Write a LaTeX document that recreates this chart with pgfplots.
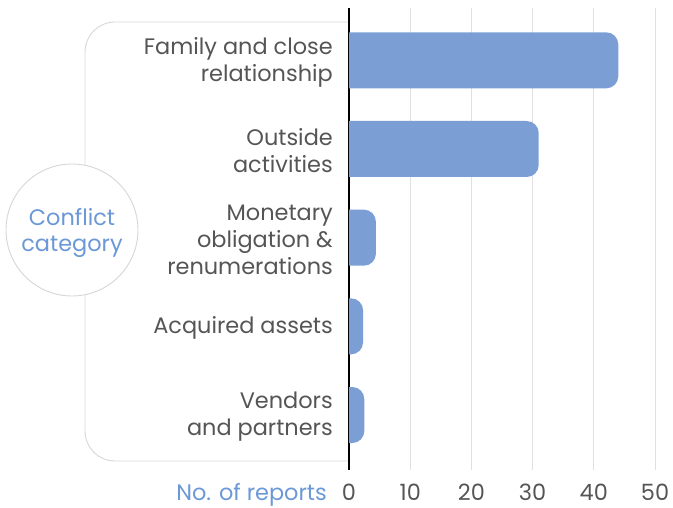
\documentclass[border=0pt]{standalone}
\usepackage{fontspec}
\setmainfont{Poppins}
\usepackage{pgfplots}
\pgfplotsset{compat=1.18}
\usepackage{pgfplotstable}
\definecolor{barblue}{HTML}{7B9FD4}
\definecolor{lblblue}{HTML}{6B98D6}
\definecolor{txtgray}{HTML}{555555}
\definecolor{boxgray}{HTML}{D6D6D6}
\definecolor{gridgray}{HTML}{E0E0E0}
\pgfplotstableread{
y v
0 44
1 31
2 4.4
3 2.3
4 2.5
}\datatable
\begin{document}
\begin{tikzpicture}
\path[use as bounding box] (0,0) rectangle (673bp,508bp);
\draw[boxgray, line width=0.9bp, rounded corners=30bp] (349bp,486bp) -| (85bp,47bp) -- (349bp,47bp);
\begin{axis}[
  at={(349bp,38bp)}, anchor=south west,
  scale only axis, width=306bp, height=462bp,
  xmin=0, xmax=50, ymin=-0.59, ymax=4.62, y dir=reverse,
  xbar stacked, stack negative=on previous, bar width=56bp,
  axis lines*=left, separate axis lines,
  x axis line style={draw=none},
  y axis line style={draw=black, line width=1.2bp},
  xmajorgrids, grid style={gridgray, line width=0.9bp},
  major tick length=0pt,
  xtick={0,10,20,30,40,50},
  ytick={0,1,2,3,4},
  yticklabels={{Family and close\\relationship},{Outside\\activities},{Monetary\ \\obligation \&\\renumerations},{Acquired assets},{Vendors\\and partners}},
  yticklabel style={align=right, anchor=east, inner sep=0pt, xshift=-16bp, yshift=-2bp, text=txtgray, font=\fontsize{22.5}{27}\selectfont},
  xticklabel style={anchor=base, yshift=-30bp, text=txtgray, font=\fontsize{22.5}{27}\selectfont},
  /pgf/number format/assume math mode=true,
]
\addplot[draw=none, fill=none] table[x expr=-4, y=y] {\datatable};
\addplot[fill=barblue, draw=none, rounded corners=12bp] table[x expr=\thisrow{v}+4, y=y] {\datatable};
\end{axis}
\node[anchor=base east, text=lblblue, font=\fontsize{22.5}{27}\selectfont, inner sep=0pt] at (327bp,8bp) {No. of reports};
\draw[boxgray, fill=white, line width=0.9bp] (72bp,278bp) circle (66bp);
\node[text=lblblue, align=center, font=\fontsize{22.5}{26}\selectfont] at (72bp,275bp) {Conflict\\category};
\end{tikzpicture}
\end{document}
